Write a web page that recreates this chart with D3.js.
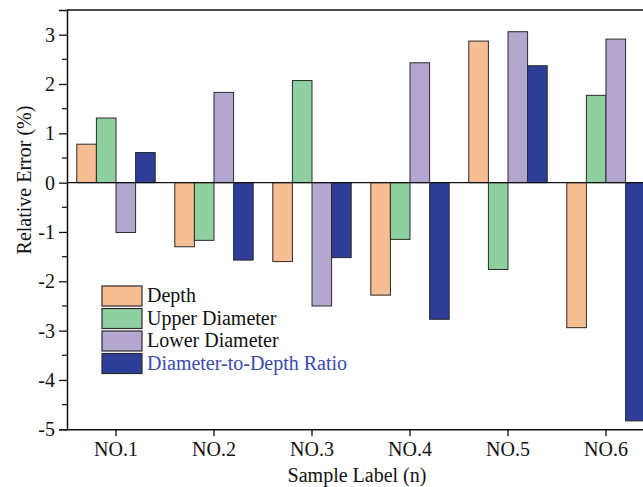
<!DOCTYPE html>
<html>
<head>
<meta charset="utf-8">
<script src="https://cdn.jsdelivr.net/npm/d3@7"></script>
<style>
  html, body { margin: 0; padding: 0; background: #fff; overflow: hidden; }
  svg { display: block; font-family: "Liberation Serif", "Times New Roman", serif; }
</style>
</head>
<body>
<svg id="chart" width="643" height="487"></svg>
<script>
const categories = ["NO.1", "NO.2", "NO.3", "NO.4", "NO.5", "NO.6"];
const seriesNames = ["Depth", "Upper Diameter", "Lower Diameter", "Diameter-to-Depth Ratio"];
const depth = [0.78, -1.30, -1.60, -2.28, 2.87, -2.94];
const upperDiameter = [1.31, -1.17, 2.07, -1.15, -1.76, 1.77];
const lowerDiameter = [-1.01, 1.83, -2.50, 2.43, 3.06, 2.91];
const ratio = [0.61, -1.57, -1.52, -2.77, 2.37, -4.83];
const seriesColors = ["#F8BE93", "#8FD0A0", "#B3A7CF", "#2E3E98"];
const yTicks = [-5, -4, -3, -2, -1, 0, 1, 2, 3];

const series = [depth, upperDiameter, lowerDiameter, ratio];

const svg = d3.select("#chart");
const mLeft = 67, mTop = 10, mBottom = 429.3;
const step = 98;
const mRight = mLeft + step * categories.length; // extends past the visible edge

const x0 = d3.scaleBand().domain(categories).range([mLeft, mRight]).paddingInner(0.2).paddingOuter(0.1);
const x1 = d3.scaleBand().domain(d3.range(seriesNames.length)).range([0, x0.bandwidth()]);
const y = d3.scaleLinear().domain([-5, 3.5]).range([mBottom, mTop]);

// Bars
const groups = svg.append("g").selectAll("g")
  .data(categories)
  .join("g")
  .attr("transform", d => `translate(${x0(d)},0)`);

groups.selectAll("rect")
  .data((d, i) => series.map((s, k) => ({ k, v: s[i] })))
  .join("rect")
  .attr("x", d => x1(d.k))
  .attr("width", x1.bandwidth())
  .attr("y", d => y(Math.max(0, d.v)))
  .attr("height", d => Math.abs(y(d.v) - y(0)))
  .attr("fill", d => seriesColors[d.k])
  .attr("stroke", "#2a2a2a")
  .attr("stroke-width", 1);

// Zero line
svg.append("line")
  .attr("x1", mLeft).attr("x2", 643)
  .attr("y1", y(0)).attr("y2", y(0))
  .attr("stroke", "#111").attr("stroke-width", 1.3);

// Top border
svg.append("line")
  .attr("x1", mLeft).attr("x2", 643)
  .attr("y1", mTop).attr("y2", mTop)
  .attr("stroke", "#111").attr("stroke-width", 1.5);

// Y axis
const yAxis = d3.axisLeft(y).tickValues(yTicks).tickFormat(d => d < 0 ? "-" + Math.abs(d) : String(d)).tickSize(8).tickPadding(4);
const gy = svg.append("g").attr("transform", `translate(${mLeft},0)`).call(yAxis);
gy.select(".domain").attr("stroke", "#111").attr("stroke-width", 1.5);
gy.selectAll(".tick line").attr("stroke", "#111").attr("stroke-width", 1.3);
gy.selectAll(".tick text").attr("font-size", 20).attr("fill", "#111").attr("font-family", "Liberation Serif");
// minor ticks
const minor = d3.range(-4.5, 3.5, 1);
svg.append("g").selectAll("line").data(minor).join("line")
  .attr("x1", mLeft - 5).attr("x2", mLeft)
  .attr("y1", d => y(d)).attr("y2", d => y(d))
  .attr("stroke", "#111").attr("stroke-width", 1.2);

// X axis
const xAxis = d3.axisBottom(x0).tickSize(7).tickPadding(6).tickSizeOuter(0);
const gx = svg.append("g").attr("transform", `translate(0,${mBottom})`).call(xAxis);
gx.select(".domain").attr("stroke", "#111").attr("stroke-width", 1.5);
gx.selectAll(".tick line").attr("stroke", "#111").attr("stroke-width", 1.3);
gx.selectAll(".tick text").attr("font-size", 20).attr("fill", "#111").attr("font-family", "Liberation Serif");

// Axis titles
svg.append("text")
  .attr("x", 357).attr("y", 482)
  .attr("text-anchor", "middle")
  .attr("font-size", 20).attr("fill", "#111")
  .text("Sample Label (n)");

svg.append("text")
  .attr("transform", "translate(31,180) rotate(-90)")
  .attr("text-anchor", "middle")
  .attr("font-size", 20).attr("fill", "#111")
  .text("Relative Error (%)");

// Legend
const legend = svg.append("g").attr("transform", "translate(102,286)");
const li = legend.selectAll("g").data(seriesNames).join("g")
  .attr("transform", (d, i) => `translate(0,${i * 22.5})`);
li.append("rect")
  .attr("width", 40).attr("height", 20)
  .attr("fill", (d, i) => seriesColors[i])
  .attr("stroke", "#2a2a2a").attr("stroke-width", 1.2);
li.append("text")
  .attr("x", 45).attr("y", 16)
  .attr("font-size", 20)
  .attr("fill", (d, i) => i === 3 ? "#3A4BB0" : "#111")
  .text(d => d);
</script>
</body>
</html>
